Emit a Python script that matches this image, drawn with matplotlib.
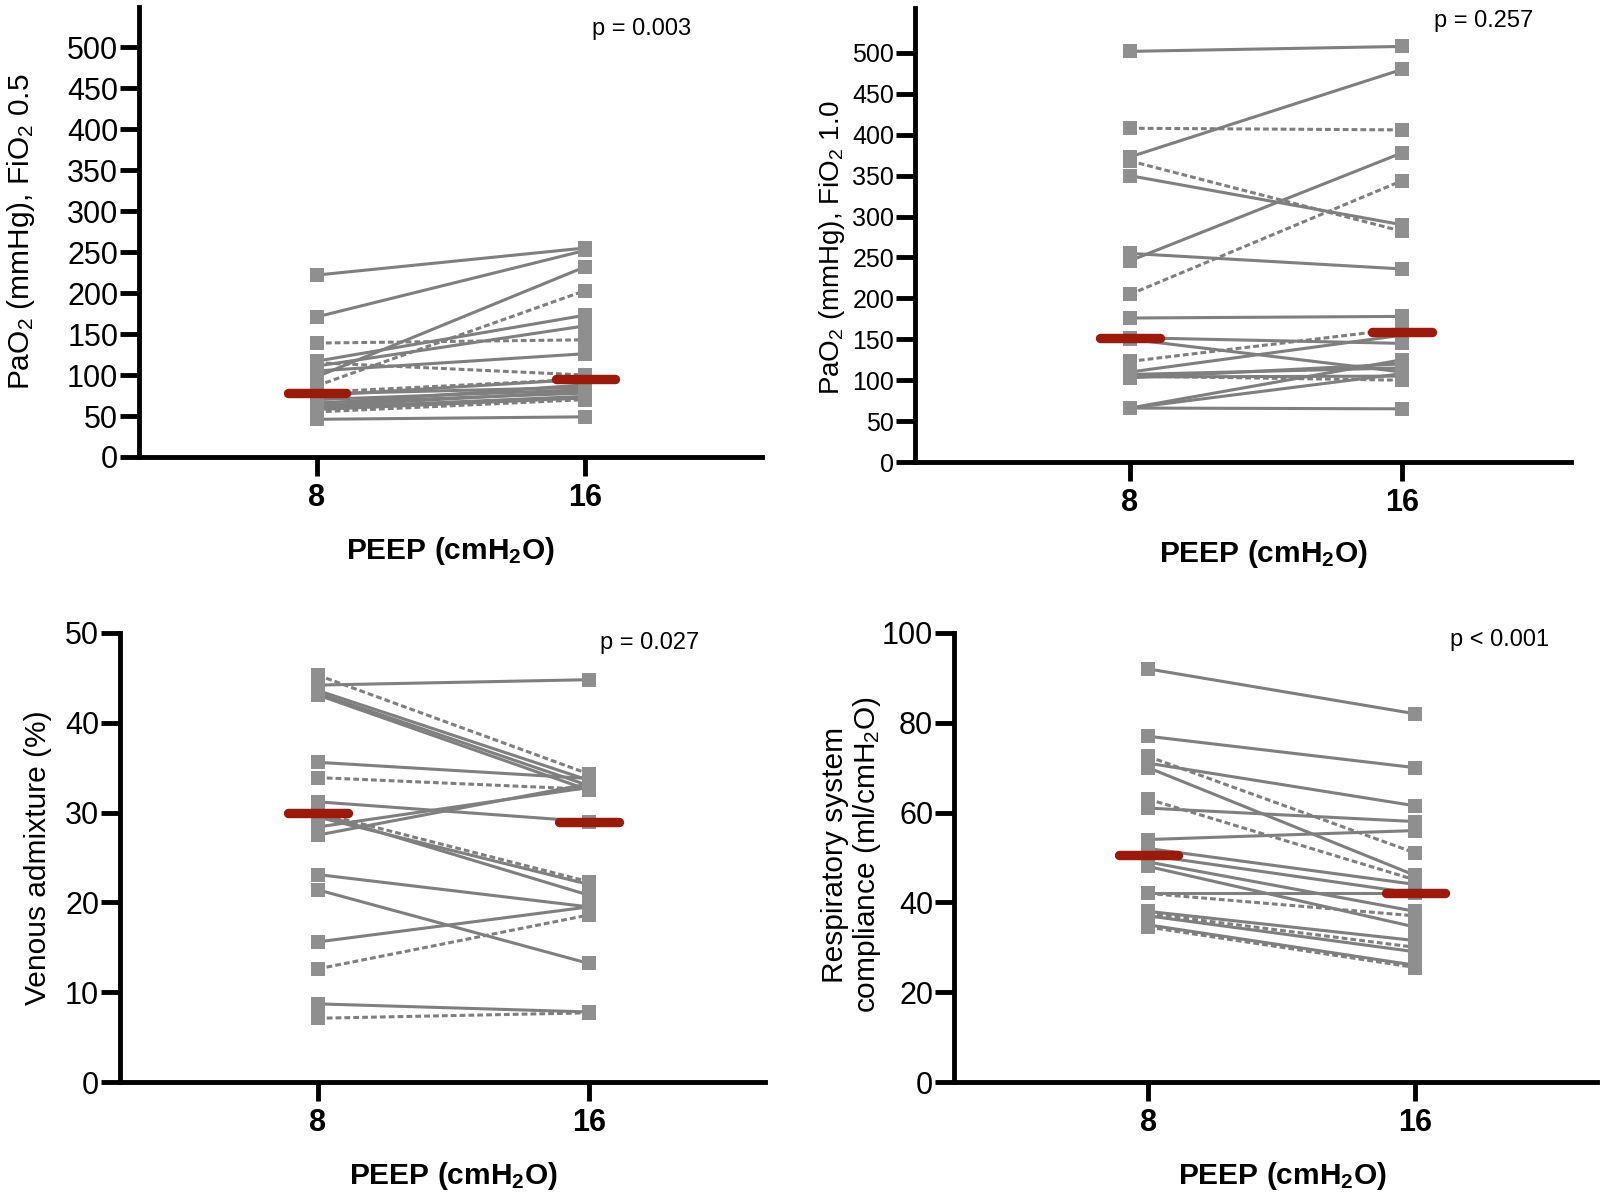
import numpy as np
import matplotlib
matplotlib.use("Agg")
import matplotlib.pyplot as plt

plt.rcParams['font.family'] = ['Liberation Sans', 'DejaVu Sans']
plt.rcParams['mathtext.fontset'] = 'custom'
plt.rcParams['mathtext.rm'] = 'Liberation Sans'
plt.rcParams['mathtext.it'] = 'Liberation Sans:italic'
plt.rcParams['mathtext.bf'] = 'Liberation Sans:bold'

# ---------------- data ----------------
peep_labels = ["8", "16"]

# Panel A: PaO2 at FiO2 0.5
pao2_05_peep8 = [222, 171, 139, 117, 111, 98, 87, 115, 105, 79, 77, 75, 70, 66, 62, 60, 58, 55, 46, 65]
pao2_05_peep16 = [255, 252, 143, 173, 160, 232, 203, 100, 126, 95, 85, 95, 82, 78, 80, 74, 72, 70, 49, 88]
pao2_05_dashed = [0, 0, 1, 0, 0, 0, 1, 1, 0, 1, 0, 0, 0, 0, 0, 0, 0, 1, 0, 0]

# Panel B: PaO2 at FiO2 1.0
pao2_10_peep8 = [502, 408, 373, 368, 350, 255, 246, 205, 176, 123, 152, 150, 110, 107, 105, 104, 103, 66, 66, 66]
pao2_10_peep16 = [508, 406, 480, 282, 290, 236, 378, 344, 178, 163, 145, 110, 155, 115, 100, 105, 120, 125, 108, 65]
pao2_10_dashed = [0, 1, 0, 1, 0, 0, 0, 1, 0, 1, 0, 0, 0, 0, 1, 0, 0, 0, 0, 0]

# Panel C: venous admixture (%)
venadm_peep8 = [45.3, 44.2, 43.6, 43.3, 43.1, 35.6, 33.9, 31.2, 30.0, 29.9, 29.5, 28.4, 27.5, 23.1, 21.4, 15.6, 12.6, 8.7, 7.1]
venadm_peep16 = [34.3, 44.8, 33.6, 33.0, 32.5, 33.8, 32.6, 29.0, 22.3, 20.8, 22.0, 32.8, 33.2, 19.5, 13.2, 19.5, 18.6, 7.8, 7.7]
venadm_dashed = [1, 0, 0, 0, 0, 0, 1, 0, 1, 0, 0, 0, 0, 0, 0, 0, 1, 0, 1]

# Panel D: respiratory system compliance (ml/cmH2O)
crs_peep8 = [92, 77, 72.5, 71, 70, 63, 61, 54, 52, 50.5, 49, 48, 42, 42, 38, 37.5, 37, 35, 34.5]
crs_peep16 = [82, 70, 51, 61.5, 46, 45, 58, 56, 44, 42, 38, 34.5, 42, 37, 31.5, 30, 29, 26, 25.5]
crs_dashed = [0, 0, 1, 0, 0, 1, 0, 0, 0, 0, 0, 0, 0, 1, 0, 1, 0, 0, 1]

p_values = ["p = 0.003", "p = 0.257", "p = 0.027", "p < 0.001"]

# ---------------- figure ----------------
W, H = 1600, 1200
fig = plt.figure(figsize=(16, 12), dpi=100)

def px_axes(left, top, right, bottom):
    return fig.add_axes([left / W, 1 - bottom / H, (right - left) / W, (bottom - top) / H])

LINE_C = "#7f7f7f"
MARK_C = "#8f8f8f"
RED = "#9a1a0b"

def panel(ax, v8, v16, dashed, xlim, ylim, yticks, ylabel, ylab_xy, ptext, pxy, xlab_xy,
          ytick_fs=22, ylab_fs=21.5):
    x = np.array([0, 1])
    for a, b, d in zip(v8, v16, dashed):
        if d:
            ax.plot(x, [a, b], color=LINE_C, lw=2.2, dashes=(1.9, 1.0), zorder=2,
                    dash_capstyle='butt')
        else:
            ax.plot(x, [a, b], color=LINE_C, lw=2.2, zorder=2)
    ax.plot(np.zeros(len(v8)), v8, 's', color=MARK_C, ms=10.5, mew=0, zorder=3)
    ax.plot(np.ones(len(v16)), v16, 's', color=MARK_C, ms=10.5, mew=0, zorder=3)
    for xi, vals in zip([0, 1], [v8, v16]):
        m = np.median(vals)
        ax.plot([xi - 0.11, xi + 0.11], [m, m], color=RED, lw=6.8,
                solid_capstyle='round', zorder=4)
    ax.set_xlim(*xlim)
    ax.set_ylim(*ylim)
    ax.set_yticks(yticks)
    ax.set_xticks([0, 1])
    ax.set_xticklabels(peep_labels, fontweight='bold', fontsize=22)
    ax.tick_params(axis='y', labelsize=ytick_fs, length=14, width=3.5, pad=1, direction='out')
    ax.tick_params(axis='x', length=14, width=3.5, pad=5, direction='out')
    for s in ['top', 'right']:
        ax.spines[s].set_visible(False)
    for s in ['left', 'bottom']:
        ax.spines[s].set_linewidth(3.5)
        ax.spines[s].set_color('black')
    ax.set_ylabel(ylabel, fontsize=ylab_fs, ha='center', va='center', linespacing=1.1)
    ax.yaxis.set_label_coords(ylab_xy[0] / W, 1 - ylab_xy[1] / H, transform=fig.transFigure)
    ax.set_xlabel(r'PEEP (cmH$_\mathbf{2}$O)', fontsize=21.5, fontweight='bold', va='center')
    ax.xaxis.set_label_coords(xlab_xy[0] / W, 1 - xlab_xy[1] / H, transform=fig.transFigure)
    fig.text(pxy[0] / W, 1 - pxy[1] / H, ptext, fontsize=17, ha='center', va='center')

ax1 = px_axes(139, 7, 762, 457)
panel(ax1, pao2_05_peep8, pao2_05_peep16, pao2_05_dashed,
      (-0.664, 1.66), (0, 549), np.arange(0, 501, 50),
      r'PaO$_2$ (mmHg), FiO$_2$ 0.5', (21, 232), p_values[0], (642, 29), (451, 551))

ax2 = px_axes(915, 8, 1571, 462)
panel(ax2, pao2_10_peep8, pao2_10_peep16, pao2_10_dashed,
      (-0.79, 1.62), (0, 555), np.arange(0, 501, 50),
      r'PaO$_2$ (mmHg), FiO$_2$ 1.0', (832, 248), p_values[1], (1484, 21), (1264, 554),
      ytick_fs=18, ylab_fs=20)

ax3 = px_axes(120, 633, 765, 1082)
panel(ax3, venadm_peep8, venadm_peep16, venadm_dashed,
      (-0.73, 1.65), (0, 50), np.arange(0, 51, 10),
      'Venous admixture (%)', (38, 858), p_values[2], (650, 643), (454, 1176))

ax4 = px_axes(954, 633, 1597, 1082)
panel(ax4, crs_peep8, crs_peep16, crs_dashed,
      (-0.727, 1.68), (0, 100), np.arange(0, 101, 20),
      'Respiratory system\n' + r'compliance (ml/cmH$_2$O)', (852, 855), p_values[3], (1500, 640), (1283, 1176))

fig.savefig("out.png", dpi=100)
